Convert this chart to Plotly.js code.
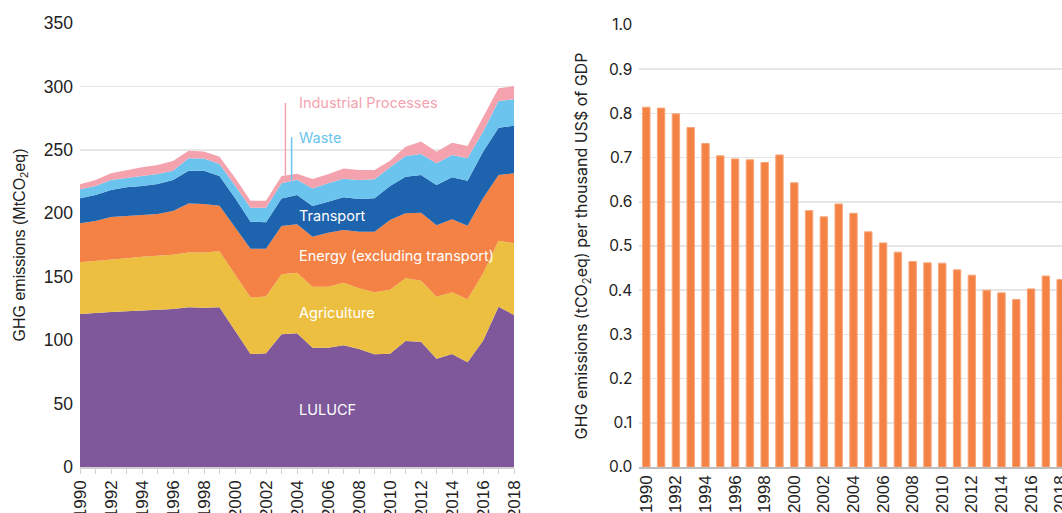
<!DOCTYPE html>
<html>
<head>
<meta charset="utf-8">
<script src="https://cdn.plot.ly/plotly-3.0.1.min.js"></script>
<style>
  html, body { margin: 0; padding: 0; background: #fff; overflow: hidden; }
  #chart { width: 1062px; height: 513px; }
</style>
</head>
<body>
<div id="chart"></div>
<script>
// Years shared by both panels
var years = [];
for (var y = 1990; y <= 2018; y++) years.push(y);

// Emissions by sector, MtCO2eq (left panel, stacked)
var lulucf = [120.6, 121.5, 122.2, 122.7, 123.3, 123.8, 124.5, 125.9, 125.6, 125.9,
              107.5, 89.0, 89.6, 104.6, 105.4, 94.0, 94.0, 96.0, 93.0, 88.8,
              89.3, 99.3, 98.8, 85.4, 89.0, 82.5, 99.6, 126.4, 119.8];
var agriculture = [40.8, 40.9, 41.0, 41.8, 42.5, 42.8, 42.9, 43.1, 43.4, 44.1,
                   44.5, 44.7, 44.9, 47.3, 47.8, 48.0, 48.0, 49.3, 48.0, 48.9,
                   50.5, 49.4, 48.1, 48.9, 48.7, 49.7, 53.1, 52.0, 56.5];
var energy = [30.7, 31.5, 33.8, 33.4, 32.6, 32.8, 34.4, 38.8, 38.3, 36.0,
              37.0, 38.4, 37.6, 38.1, 38.2, 39.5, 42.7, 41.5, 44.5, 47.8,
              54.9, 51.3, 53.6, 56.2, 57.5, 58.0, 59.1, 51.8, 55.2];
var transport = [19.7, 20.5, 21.4, 22.6, 23.1, 23.7, 24.4, 25.8, 26.3, 23.4,
                 23.0, 21.3, 20.9, 21.6, 23.0, 24.2, 24.4, 25.8, 25.8, 26.3,
                 26.8, 28.8, 29.7, 31.8, 33.2, 35.5, 36.8, 37.3, 37.6];
var waste = [7.1, 7.1, 7.8, 7.5, 7.9, 7.9, 7.4, 9.8, 9.5, 9.4,
             10.0, 11.0, 11.4, 12.0, 12.1, 13.9, 14.5, 14.7, 14.9, 15.1,
             14.7, 16.3, 16.5, 17.1, 17.5, 17.7, 15.7, 21.0, 20.7];
var industrial = [3.9, 4.7, 5.3, 6.1, 6.8, 7.0, 7.6, 5.9, 5.7, 5.8,
                  6.0, 5.5, 5.5, 5.8, 4.6, 7.4, 7.1, 8.1, 7.9, 7.2,
                  5.3, 7.4, 9.8, 9.2, 9.8, 9.6, 11.9, 10.0, 10.5];

// Emissions intensity, tCO2eq per thousand US$ of GDP (right panel)
var intensity = [0.814, 0.812, 0.799, 0.768, 0.732, 0.704, 0.697, 0.695, 0.689, 0.706,
                 0.643, 0.580, 0.566, 0.595, 0.574, 0.532, 0.507, 0.486, 0.465, 0.462,
                 0.461, 0.446, 0.434, 0.400, 0.394, 0.379, 0.403, 0.432, 0.424];

var sectors = [
    {name: 'LULUCF', values: lulucf, color: '#7e589a'},
    {name: 'Agriculture', values: agriculture, color: '#ecbf40'},
    {name: 'Energy (excluding transport)', values: energy, color: '#f48245'},
    {name: 'Transport', values: transport, color: '#1d63ad'},
    {name: 'Waste', values: waste, color: '#6bc4ee'},
    {name: 'Industrial Processes', values: industrial, color: '#f4a3ae'}
];

var axisFont = 'Liberation Sans, Arial, sans-serif';
var labelFont = 'Inter, Roboto, sans-serif';

var data = sectors.map(function(s) {
    return {
        x: years,
        y: s.values,
        name: s.name,
        type: 'scatter',
        mode: 'lines',
        stackgroup: 'ghg',
        line: {width: 0, color: s.color},
        fillcolor: s.color,
        xaxis: 'x',
        yaxis: 'y',
        hoverinfo: 'x+y+name'
    };
});

data.push({
    x: years,
    y: intensity,
    type: 'bar',
    width: 0.5,
    marker: {color: '#f48245', line: {color: '#f8a57a', width: 1}},
    xaxis: 'x2',
    yaxis: 'y2',
    name: 'Intensity'
});

// White labels inside the areas, coloured labels above
function label(text, x, y, color) {
    return {
        text: text, x: x, y: y, xref: 'x', yref: 'y',
        xanchor: 'left', yanchor: 'middle', showarrow: false,
        font: {family: labelFont, size: 14.5, color: color}
    };
}

var annotations = [
    label('Industrial Processes', 2004, 287, '#f4a3ae'),
    label('Waste', 2004, 260, '#6bc4ee'),
    label('Transport', 2004, 198, '#ffffff'),
    label('Energy (excluding transport)', 2004, 166, '#ffffff'),
    label('Agriculture', 2004, 121.5, '#ffffff'),
    label('LULUCF', 2004, 45, '#ffffff')
];

var shapes = [
    {type: 'line', xref: 'x', yref: 'y', x0: 2003.25, x1: 2003.25, y0: 230, y1: 287,
     line: {color: '#f4a3ae', width: 1.5}},
    {type: 'line', xref: 'x', yref: 'y', x0: 2003.65, x1: 2003.65, y0: 226, y1: 260,
     line: {color: '#6bc4ee', width: 1.5}}
];

var layout = {
    width: 1062,
    height: 513,
    margin: {l: 80, r: 0, t: 23, b: 46},
    paper_bgcolor: '#ffffff',
    plot_bgcolor: '#ffffff',
    showlegend: false,
    annotations: annotations,
    shapes: shapes,
    xaxis: {
        domain: [0, 0.442],
        range: [1990, 2018],
        tick0: 1990,
        dtick: 2,
        tickangle: -90,
        ticks: 'outside',
        ticklen: 5,
        tickcolor: '#d0d0d0',
        minor: {dtick: 1, ticks: 'outside', ticklen: 5, tickcolor: '#d0d0d0'},
        showline: true,
        linecolor: '#cfcfcf',
        linewidth: 1.5,
        showgrid: false,
        zeroline: false,
        ticklabeloverflow: 'allow',
        tickfont: {family: axisFont, size: 17, color: '#222'},
        automargin: false
    },
    yaxis: {
        domain: [0, 1],
        range: [0, 350],
        dtick: 50,
        gridcolor: '#e6e6e6',
        gridwidth: 1.5,
        zeroline: false,
        ticks: '',
        ticklabelstandoff: 6,
        tickfont: {family: axisFont, size: 17.5, color: '#222'},
        title: {
            text: 'GHG emissions (MtCO<sub>2</sub>eq)',
            font: {family: axisFont, size: 16, color: '#222'},
            standoff: 14
        },
        automargin: false
    },
    xaxis2: {
        domain: [0.5696, 1],
        range: [1989.53, 2018.09],
        tick0: 1990,
        dtick: 2,
        tickangle: -90,
        ticks: '',
        showline: true,
        linecolor: '#bdbdbd',
        linewidth: 1.5,
        showgrid: false,
        zeroline: false,
        anchor: 'y2',
        ticklabeloverflow: 'allow',
        tickfont: {family: axisFont, size: 17, color: '#222'},
        automargin: false
    },
    yaxis2: {
        domain: [0, 0.9955],
        range: [0, 1.0],
        dtick: 0.1,
        tickformat: '.1f',
        anchor: 'x2',
        gridcolor: '#e6e6e6',
        gridwidth: 1.5,
        zeroline: false,
        ticks: '',
        ticklabelstandoff: 6,
        tickfont: {family: labelFont, size: 15.5, color: '#222'},
        title: {
            text: 'GHG emissions (tCO<sub>2</sub>eq) per thousand US$ of GDP',
            font: {family: labelFont, size: 16, color: '#222'},
            standoff: 16
        },
        automargin: false
    }
};

Plotly.newPlot('chart', data, layout, {displayModeBar: false, staticPlot: true});
</script>
</body>
</html>
